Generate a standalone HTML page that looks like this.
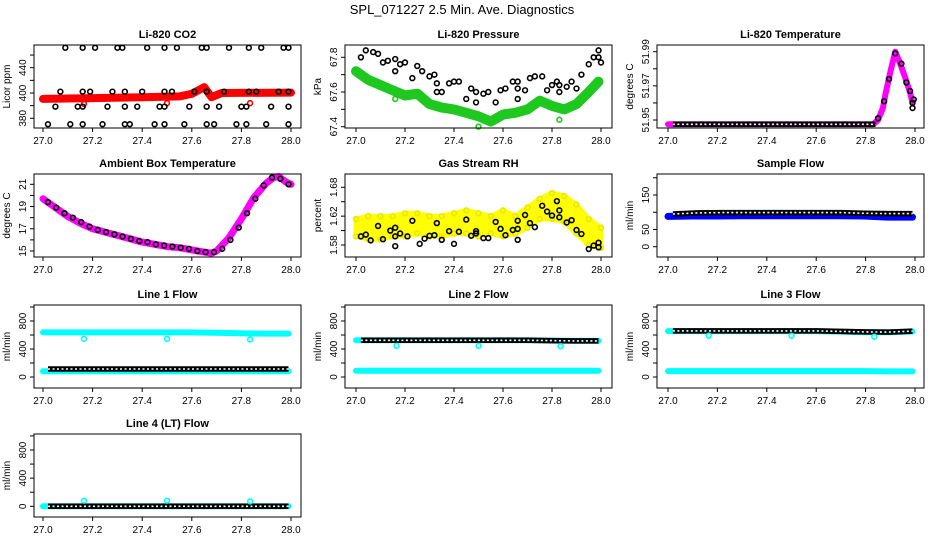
<!DOCTYPE html>
<html><head><meta charset="utf-8"><style>
html,body{margin:0;padding:0;background:#fff;}
svg{display:block;font-family:"Liberation Sans",sans-serif;}
</style></head><body>
<svg id="fig" width="936" height="540" viewBox="0 0 936 540" xmlns="http://www.w3.org/2000/svg">
<rect width="936" height="540" fill="#fff"/>
<text x="462" y="14" font-size="13" text-anchor="middle">SPL_071227  2.5 Min. Ave. Diagnostics</text>
</svg>
<script>
// ---- data (x = time, day fraction; y = measured value) ----
const xTicks = [27.0, 27.2, 27.4, 27.6, 27.8, 28.0];
const xTickLabels = ["27.0","27.2","27.4","27.6","27.8","28.0"];

const co2Red = [[27.0,403],[27.2,404],[27.4,405],[27.55,406],[27.6,409],[27.65,417],[27.68,405],[27.72,410],[28.0,410.5]];
const co2RedOut = [[27.165,397],[27.5,398],[27.835,398]];
const co2Black = [
 [27.09,463.7],[27.16,463.7],[27.21,463.7],[27.30,463.7],[27.32,463.7],[27.42,463.7],[27.49,463.7],[27.54,463.7],[27.64,463.7],[27.66,463.7],[27.75,463.7],[27.83,463.7],[27.88,463.7],[27.97,463.7],[27.99,463.7],
 [27.07,411.6],[27.16,411.6],[27.19,411.6],[27.28,411.6],[27.33,411.6],[27.40,411.6],[27.49,411.6],[27.52,411.6],[27.61,411.6],[27.66,411.6],[27.73,411.6],[27.83,411.6],[27.86,411.6],[27.95,411.6],[27.99,411.6],
 [27.05,393.8],[27.14,393.8],[27.16,393.8],[27.26,393.8],[27.33,393.8],[27.38,393.8],[27.47,393.8],[27.49,393.8],[27.59,393.8],[27.66,393.8],[27.71,393.8],[27.80,393.8],[27.82,393.8],[27.92,393.8],[27.99,393.8],
 [27.02,373],[27.11,373],[27.16,373],[27.24,373],[27.33,373],[27.35,373],[27.45,373],[27.49,373],[27.57,373],[27.66,373],[27.69,373],[27.78,373],[27.82,373],[27.90,373],[27.99,373]];

const presGreen = [[27.0,67.72],[27.05,67.67],[27.1,67.64],[27.15,67.61],[27.2,67.58],[27.25,67.59],[27.3,67.53],[27.35,67.51],[27.4,67.5],[27.45,67.48],[27.5,67.46],[27.55,67.43],[27.6,67.47],[27.65,67.48],[27.7,67.5],[27.75,67.55],[27.8,67.52],[27.85,67.5],[27.9,67.53],[27.95,67.6],[27.99,67.66]];
const presGreenOut = [[27.16,67.56],[27.5,67.40],[27.83,67.44]];
const presBlack = [[27.02,67.80],[27.04,67.84],[27.07,67.83],[27.09,67.82],[27.11,67.77],[27.13,67.78],[27.16,67.79],[27.16,67.72],[27.18,67.76],[27.20,67.77],[27.23,67.68],[27.25,67.75],[27.27,67.72],[27.30,67.69],[27.32,67.70],[27.33,67.65],[27.33,67.60],[27.35,67.60],[27.38,67.65],[27.40,67.66],[27.42,67.66],[27.45,67.56],[27.47,67.62],[27.49,67.54],[27.49,67.60],[27.52,67.59],[27.54,67.60],[27.57,67.54],[27.59,67.61],[27.61,67.62],[27.64,67.66],[27.66,67.66],[27.66,67.62],[27.66,67.56],[27.69,67.61],[27.71,67.68],[27.73,67.69],[27.76,67.69],[27.78,67.61],[27.80,67.64],[27.82,67.66],[27.83,67.64],[27.83,67.60],[27.86,67.63],[27.88,67.66],[27.90,67.62],[27.92,67.70],[27.95,67.76],[27.97,67.80],[27.99,67.84],[27.99,67.80],[28.0,67.77]];

const tempMag = [[27.0,51.9475],[27.83,51.9475],[27.85,51.950],[27.87,51.957],[27.88,51.965],[27.90,51.978],[27.92,51.99],[27.94,51.983],[27.96,51.975],[27.98,51.966],[27.99,51.96]];
const tempBlackFlat = [[27.02,51.9475],[27.84,51.9475]];
const tempBlack = [[27.85,51.951],[27.875,51.961],[27.895,51.974],[27.92,51.989],[27.945,51.983],[27.965,51.972],[27.98,51.967],[27.99,51.96],[27.99,51.957],[27.995,51.962]];

const ambMag = [[27.0,19.7],[27.05,18.9],[27.1,18.1],[27.15,17.5],[27.2,17.0],[27.25,16.7],[27.3,16.4],[27.35,16.1],[27.4,15.8],[27.45,15.6],[27.5,15.4],[27.55,15.3],[27.6,15.1],[27.65,14.9],[27.68,14.8],[27.7,15.0],[27.75,16.2],[27.8,17.9],[27.85,19.8],[27.9,21.1],[27.93,21.6],[27.95,21.7],[27.98,21.2],[28.0,21.0]];
const ambBlack = [19.4,18.9,18.4,18.0,17.6,17.2,16.9,16.7,16.5,16.3,16.1,15.9,15.8,15.6,15.5,15.4,15.3,15.2,15.0,14.9,14.9,15.2,16.0,17.1,18.4,19.7,20.9,21.6,21.5,21.0];

const rhUpper = [1.625,1.63,1.63,1.63,1.635,1.635,1.63,1.63,1.635,1.64,1.635,1.63,1.64,1.63,1.645,1.66,1.67,1.665,1.65,1.625,1.61];
const rhLower = [1.595,1.59,1.59,1.595,1.595,1.60,1.595,1.595,1.60,1.60,1.595,1.60,1.595,1.60,1.61,1.625,1.625,1.62,1.60,1.58,1.575];
const rhBlack = [[27.02,1.595],[27.04,1.598],[27.06,1.588],[27.09,1.613],[27.11,1.59],[27.14,1.605],[27.16,1.61],[27.16,1.595],[27.16,1.578],[27.18,1.60],[27.21,1.595],[27.23,1.622],[27.26,1.582],[27.28,1.591],[27.30,1.596],[27.32,1.597],[27.33,1.618],[27.35,1.589],[27.38,1.604],[27.40,1.582],[27.42,1.603],[27.45,1.624],[27.47,1.596],[27.49,1.604],[27.49,1.60],[27.52,1.592],[27.54,1.592],[27.57,1.62],[27.59,1.608],[27.61,1.597],[27.64,1.606],[27.66,1.622],[27.66,1.608],[27.66,1.589],[27.69,1.632],[27.71,1.618],[27.73,1.611],[27.76,1.648],[27.78,1.638],[27.80,1.631],[27.82,1.656],[27.83,1.640],[27.83,1.628],[27.86,1.619],[27.88,1.623],[27.90,1.606],[27.92,1.599],[27.95,1.573],[27.97,1.579],[27.99,1.576],[27.99,1.584]];

const sampleBlue = [88,89,89,90,90,90,90,90,89,86,86];
const sampleBlack = [95,98,99,99,99,99,99,99,97,96,96];

const l1CyanTop = [637,637,637,637,637,637,637,632,625,620,620];
const l1Black = [114,114,114,114,114,114,114,114,114,114,114];
const l1CyanBot = [82,82,82,82,82,82,82,82,82,82,82];
const l1CyanOut = [[27.165,545],[27.5,545],[27.835,535]];

const l2CyanTop = [525,525,525,525,525,525,525,525,520,515,515];
const l2Black = [525,525,525,525,525,525,525,525,520,515,515];
const l2CyanBot = [88,88,88,88,88,88,88,88,88,88,88];
const l2CyanOut = [[27.165,445],[27.5,445],[27.835,440]];

const l3CyanTop = [655,655,655,655,655,655,655,648,640,638,650];
const l3Black = [658,658,658,658,658,658,658,652,645,642,655];
const l3CyanBot = [85,85,85,85,85,85,85,85,85,80,80];
const l3CyanOut = [[27.165,590],[27.5,590],[27.835,575]];

const l4Cyan = [0,0,0,0,0,0,0,0,0,0,0];
const l4Black = [0,0,0,0,0,0,0,0,0,0,0];
const l4CyanOut = [[27.165,80],[27.5,80],[27.835,70]];

// ---- layout ----
const svg = document.getElementById('fig');
const NS = 'http://www.w3.org/2000/svg';
const boxL = [34, 345, 657], boxW = 267, rowTop = [45, 174, 305, 434], boxH = 83;
const X0 = [43, 356, 668], X1 = [291, 601, 915];

function el(tag, attrs, parent) {
  const e = document.createElementNS(NS, tag);
  for (const k in attrs) e.setAttribute(k, attrs[k]);
  (parent || svg).appendChild(e);
  return e;
}

function makePanel(col, row, title, ylab, ya, yTicks, yLabVals, yLabTexts, key) {
  const g = el('g', {});
  
  
  const top = rowTop[row], L = boxL[col];
  const xs = v => X0[col] + (v - 27) * (X1[col] - X0[col]);
  const ys = v => top + ya[1] + (v - ya[0]) * (ya[3] - ya[1]) / (ya[2] - ya[0]);
  const t = el('text', {x: L + boxW / 2, y: top - 7, 'font-size': 11, 'font-weight': 'bold', 'text-anchor': 'middle'}, g);
  t.textContent = title;
  
  
  const yl = el('text', {x: 0, y: 0, 'font-size': 10, 'text-anchor': 'middle', transform: `translate(${L - 24},${top + boxH / 2}) rotate(-90)`}, g);
  yl.textContent = ylab;
  
  
  xTicks.forEach((v, i) => {
    el('line', {x1: xs(v), x2: xs(v), y1: top + boxH, y2: top + boxH + 4, stroke: '#000'}, g);
    const tx = el('text', {x: xs(v), y: top + boxH + 16, 'font-size': 10, 'text-anchor': 'middle'}, g);
    tx.textContent = xTickLabels[i];
    
    
  });
  yTicks.forEach(v => {
    el('line', {x1: L - 4, x2: L, y1: ys(v), y2: ys(v), stroke: '#000'}, g);
  });
  yLabVals.forEach((v, i) => {
    const tx = el('text', {x: 0, y: 0, 'font-size': 10, 'text-anchor': 'middle', transform: `translate(${L - 8},${ys(v)}) rotate(-90)`}, g);
    tx.textContent = yLabTexts[i];
    
    
  });
  const plot = el('g', {}, g);
  
  
  const box = el('rect', {x: L, y: top, width: boxW, height: boxH, fill: 'none', stroke: '#000', 'stroke-width': 1}, g);
  
  
  return {xs, ys, plot};
}

function pairsPts(p, arr) { return arr.map(d => p.xs(d[0]).toFixed(1) + ',' + p.ys(d[1]).toFixed(1)).join(' '); }
function evenPts(p, arr, a, b) { return arr.map((v, i) => p.xs(a + (b - a) * i / (arr.length - 1)).toFixed(1) + ',' + p.ys(v).toFixed(1)).join(' '); }

function band(p, pts, color, w, name) {
  const e = el('polyline', {points: pts, fill: 'none', stroke: color, 'stroke-width': w, 'stroke-linejoin': 'round', 'stroke-linecap': 'round'}, p.plot);
  
  
}
function ringLine(p, pts, name) {
  const a = el('polyline', {points: pts, fill: 'none', stroke: '#000', 'stroke-width': 5.5}, p.plot);
  
  
  const b = el('polyline', {points: pts, fill: 'none', stroke: '#fff', 'stroke-width': 1.6, 'stroke-dasharray': '2 2.5'}, p.plot);
  
  
}
function dots(p, arr, color, name) {
  arr.forEach(d => {
    const c = el('circle', {cx: p.xs(d[0]), cy: p.ys(d[1]), r: 2.4, fill: 'none', stroke: color, 'stroke-width': 1.6}, p.plot);
    
    
  });
}
function dotsEven(p, arr, a, b, color, name) {
  arr.forEach((v, i) => {
    const c = el('circle', {cx: p.xs(a + (b - a) * i / (arr.length - 1)), cy: p.ys(v), r: 2.4, fill: 'none', stroke: color, 'stroke-width': 1.6}, p.plot);
    
    
  });
}

// CO2
let p = makePanel(0, 0, 'Li-820 CO2', 'Licor ppm', [380, 73.3, 440, 22.7], [380,395,410,425,440,455], [380,410,440], ['380','400','440'], 'co2');
band(p, pairsPts(p, co2Red), '#ff0000', 8, 'co2-red-series');
dots(p, co2RedOut, '#ff0000', 'co2-red-point');
dots(p, co2Black, '#000', 'co2-black-point');

// Pressure
p = makePanel(1, 0, 'Li-820 Pressure', 'kPa', [67.4, 81.7, 67.8, 12.3], [67.4,67.5,67.6,67.7,67.8], [67.4,67.6,67.8], ['67.4','67.6','67.8'], 'pressure');
band(p, pairsPts(p, presGreen), '#1ec81e', 10, 'pressure-green-series');
dots(p, presGreenOut, '#1ec81e', 'pressure-green-point');
dots(p, presBlack, '#000', 'pressure-black-point');

// Temperature
p = makePanel(2, 0, 'Li-820 Temperature', 'degrees C', [51.95, 75, 51.99, 6.7], [51.95,51.96,51.97,51.98,51.99], [51.95,51.97,51.99], ['51.95','51.97','51.99'], 'temperature');
band(p, pairsPts(p, tempMag), '#ff00ff', 6, 'temperature-magenta-series');
ringLine(p, pairsPts(p, tempBlackFlat), 'temperature-black-series');
dots(p, tempBlack, '#000', 'temperature-black-point');

// Ambient
p = makePanel(0, 1, 'Ambient Box Temperature', 'degrees C', [15, 77, 21, 10.3], [15,16,17,18,19,20,21], [15,17,19,21], ['15','17','19','21'], 'ambient');
band(p, pairsPts(p, ambMag), '#ff00ff', 7, 'ambient-magenta-series');
dotsEven(p, ambBlack, 27.02, 27.99, '#000', 'ambient-black-point');

// RH
p = makePanel(1, 1, 'Gas Stream RH', 'percent', [1.58, 71, 1.68, 13.3], [1.58,1.605,1.63,1.655,1.68], [1.58,1.63,1.68], ['1.58','1.62','1.68'], 'rh');
{
  const up = rhUpper.map((v, i) => p.xs(27 + i / (rhUpper.length - 1)).toFixed(1) + ',' + p.ys(v).toFixed(1));
  const lo = rhLower.map((v, i) => p.xs(27 + i / (rhLower.length - 1)).toFixed(1) + ',' + p.ys(v).toFixed(1)).reverse();
  const poly = el('polygon', {points: up.concat(lo).join(' '), fill: '#ffff00', stroke: '#ffff00', 'stroke-width': 5, 'stroke-linejoin': 'round'}, p.plot);
  
  
  dotsEven(p, rhUpper, 27, 28, '#e8e800', 'rh-yellow-point');
  dotsEven(p, rhLower, 27, 28, '#e8e800', 'rh-yellow-point');
}
dots(p, rhBlack, '#000', 'rh-black-point');

// Sample flow
p = makePanel(2, 1, 'Sample Flow', 'ml/min', [0, 72.7, 150, 21], [0,50,100,150,200], [0,50,150], ['0','50','150'], 'sample-flow');
band(p, evenPts(p, sampleBlue, 27.0, 27.99), '#0000ff', 7, 'sample-flow-blue-series');
ringLine(p, evenPts(p, sampleBlack, 27.02, 27.99), 'sample-flow-black-series');

// Line flows
const fya = [0, 72, 800, 16], fT = [0,200,400,600,800,1000], fL = [0,400,800], fLT = ['0','400','800'];
p = makePanel(0, 2, 'Line 1 Flow', 'ml/min', fya, fT, fL, fLT, 'line1-flow');
band(p, evenPts(p, l1CyanTop, 27.0, 27.99), '#00ffff', 6, 'line1-cyan-top-series');
band(p, evenPts(p, l1CyanBot, 27.0, 27.99), '#00ffff', 6, 'line1-cyan-bottom-series');
ringLine(p, evenPts(p, l1Black, 27.02, 27.99), 'line1-black-series');
dots(p, l1CyanOut, '#00ffff', 'line1-cyan-point');

p = makePanel(1, 2, 'Line 2 Flow', 'ml/min', fya, fT, fL, fLT, 'line2-flow');
band(p, evenPts(p, l2CyanTop, 27.0, 27.99), '#00ffff', 6, 'line2-cyan-top-series');
band(p, evenPts(p, l2CyanBot, 27.0, 27.99), '#00ffff', 6, 'line2-cyan-bottom-series');
ringLine(p, evenPts(p, l2Black, 27.02, 27.99), 'line2-black-series');
dots(p, l2CyanOut, '#00ffff', 'line2-cyan-point');

p = makePanel(2, 2, 'Line 3 Flow', 'ml/min', fya, fT, fL, fLT, 'line3-flow');
band(p, evenPts(p, l3CyanTop, 27.0, 27.99), '#00ffff', 6, 'line3-cyan-top-series');
band(p, evenPts(p, l3CyanBot, 27.0, 27.99), '#00ffff', 6, 'line3-cyan-bottom-series');
ringLine(p, evenPts(p, l3Black, 27.02, 27.99), 'line3-black-series');
dots(p, l3CyanOut, '#00ffff', 'line3-cyan-point');

p = makePanel(0, 3, 'Line 4 (LT) Flow', 'ml/min', [0, 72.3, 800, 16], fT, fL, fLT, 'line4-flow');
band(p, evenPts(p, l4Cyan, 27.0, 27.99), '#00ffff', 6, 'line4-cyan-series');
ringLine(p, evenPts(p, l4Black, 27.02, 27.99), 'line4-black-series');
dots(p, l4CyanOut, '#00ffff', 'line4-cyan-point');
</script>
</body></html>
